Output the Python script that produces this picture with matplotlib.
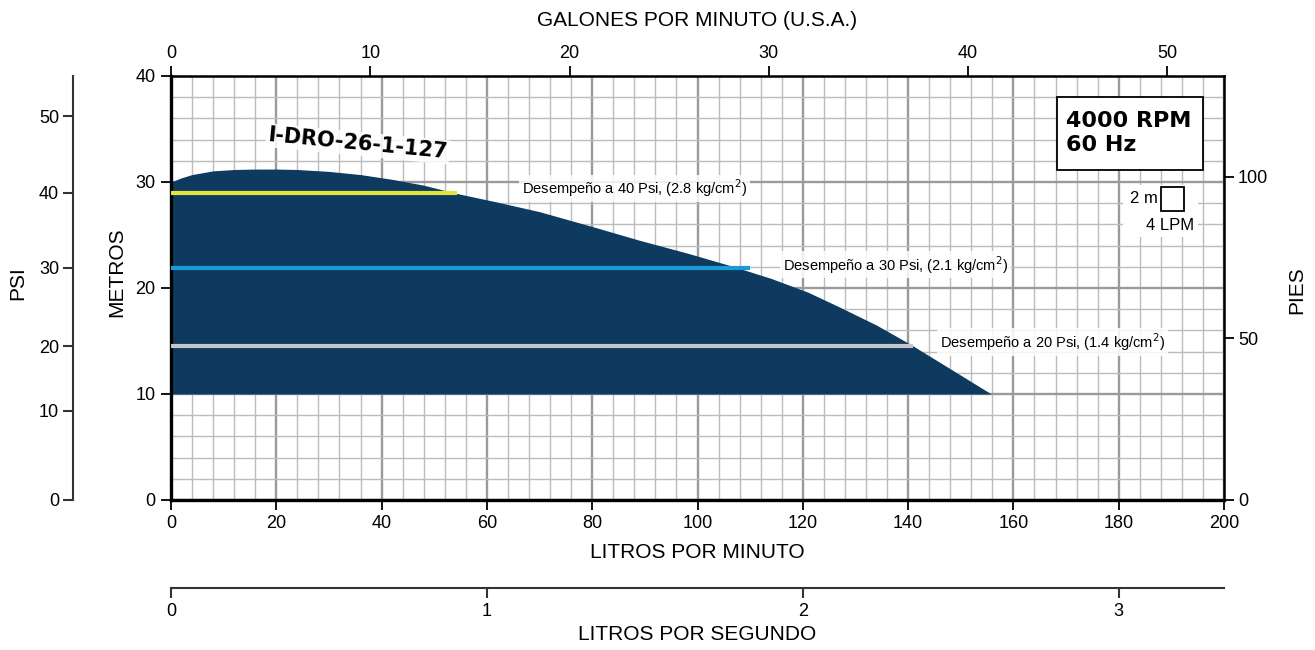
"""Pump curve I-DRO-26-1-127 at 4000 RPM / 60 Hz, with the unit axes around it."""

import matplotlib
matplotlib.use("Agg")

import matplotlib.pyplot as plt
from matplotlib.patches import Rectangle
from matplotlib.ticker import MultipleLocator

plt.rcParams["font.family"] = ["Liberation Sans", "DejaVu Sans"]

# Curve (flow in L/min, head in metres)
flow_lpm = [0, 2, 4, 8, 12, 16, 20, 24, 30, 36, 42, 48, 54, 62, 70, 80, 89, 98, 107,
            114, 121, 127, 134, 140.4, 148.6, 155.8]
head_m = [30.0, 30.4, 30.7, 31.05, 31.18, 31.22, 31.22, 31.18, 31.0, 30.7, 30.25, 29.7,
          28.95, 28.1, 27.2, 25.8, 24.5, 23.3, 22.0, 20.9, 19.6, 18.2, 16.5, 14.7, 12.2, 10.0]
base_head_m = 10.0

# Performance lines at given pressures
perf_labels = [
    "Desempeño a 40 Psi, (2.8 kg/cm$^2$)",
    "Desempeño a 30 Psi, (2.1 kg/cm$^2$)",
    "Desempeño a 20 Psi, (1.4 kg/cm$^2$)",
]
perf_head_m = [29.0, 21.9, 14.5]
perf_end_lpm = [54.3, 110, 141]
perf_colors = ["#e4e23c", "#1b9ad6", "#c6c6c6"]

# PSI scale as printed (ticks are not evenly spaced on the original)
psi_ticks = [0, 10, 20, 30, 40, 50]
psi_tick_m = [0, 8.4, 14.5, 21.9, 29.0, 36.2]

lpm_ticks = list(range(0, 201, 20))
metro_ticks = [0, 10, 20, 30, 40]
gpm_ticks = [0, 10, 20, 30, 40, 50]
pies_ticks = [0, 50, 100]
lps_ticks = [0, 1, 2, 3]

NAVY = "#0f3a60"
TICK_FS = 13
TITLE_FS = 15

fig = plt.figure(figsize=(13.15, 6.5), dpi=100)
ax = fig.add_axes([171 / 1315, 150 / 650, 1053 / 1315, 424 / 650])
ax.set_xlim(0, 200)
ax.set_ylim(0, 40)

# grid paper
ax.set_axisbelow(True)
ax.xaxis.set_minor_locator(MultipleLocator(4))
ax.yaxis.set_minor_locator(MultipleLocator(2))
ax.grid(which="minor", color="#bcbcbc", lw=1.0)
ax.grid(which="major", color="#9a9a9a", lw=1.7)
ax.tick_params(which="minor", length=0)
ax.tick_params(which="major", direction="out", length=7, width=1.3, pad=4, labelsize=TICK_FS)
ax.set_xticks(lpm_ticks)
ax.set_yticks(metro_ticks)
for side in ["left", "bottom"]:
    ax.spines[side].set_linewidth(2.4)
for side in ["top", "right"]:
    ax.spines[side].set_linewidth(1.8)

# pump curve area
ax.fill_between(flow_lpm, head_m, base_head_m, color=NAVY, lw=0, zorder=1)

for h, end, col in zip(perf_head_m, perf_end_lpm, perf_colors):
    ax.plot([0, end], [h, h], color=col, lw=3, solid_capstyle="butt", zorder=3)

label_pos = [(66.7, 29.4), (116.2, 22.2), (146.0, 14.9)]
for lbl, (x, y) in zip(perf_labels, label_pos):
    ax.text(x, y, lbl, fontsize=10.5, ha="left", va="center", zorder=4,
            bbox=dict(facecolor="white", edgecolor="none", alpha=0.85, pad=2))

ax.text(35.5, 33.6, "I-DRO-26-1-127", fontsize=15, fontweight="bold",
        family="DejaVu Sans", rotation=-5.5, ha="center", va="center", zorder=4,
        bbox=dict(facecolor="white", edgecolor="none", alpha=0.85, pad=1.5))

# speed box
ax.add_patch(Rectangle((168.3, 31.1), 27.7, 6.9, facecolor="white",
                       edgecolor="black", lw=1.3, zorder=4))
ax.text(170.0, 34.6, "4000 RPM\n60 Hz", fontsize=16, fontweight="bold",
        family="DejaVu Sans", ha="left", va="center", linespacing=1.25, zorder=5)

# grid scale key
ax.add_patch(Rectangle((180.8, 24.8), 14.2, 4.9, facecolor="white", edgecolor="none", zorder=4))
ax.add_patch(Rectangle((188, 27.3), 4.4, 2.2, facecolor="white", edgecolor="black", lw=1.3, zorder=5))
ax.text(187.5, 28.4, "2 m", fontsize=12, ha="right", va="center", zorder=5)
ax.text(189.8, 25.9, "4 LPM", fontsize=12, ha="center", va="center", zorder=5)

# secondary unit scales
top = ax.secondary_xaxis("top", functions=(lambda q: q / 3.785, lambda g: g * 3.785))
top.set_xticks(gpm_ticks)
top.tick_params(direction="out", length=7, width=1.3, pad=3, labelsize=TICK_FS)

right = ax.secondary_yaxis("right", functions=(lambda m: m * 3.281, lambda f: f / 3.281))
right.set_yticks(pies_ticks)
right.tick_params(direction="out", length=7, width=1.3, pad=3, labelsize=TICK_FS)

lps = ax.secondary_xaxis(-88 / 424, functions=(lambda q: q / 60, lambda s: s * 60))
lps.set_xticks(lps_ticks)
lps.spines["bottom"].set_color("#333333")
lps.spines["bottom"].set_linewidth(1.5)
lps.tick_params(direction="out", length=7, width=1.5, color="#333333", pad=4, labelsize=TICK_FS)

psi = ax.secondary_yaxis(-98 / 1053, functions=(lambda m: m, lambda m: m))
psi.set_yticks(psi_tick_m)
psi.set_yticklabels([str(p) for p in psi_ticks])
psi.spines["left"].set_color("#333333")
psi.spines["left"].set_linewidth(1.5)
psi.tick_params(direction="out", length=7, width=1.5, color="#333333", pad=3, labelsize=TICK_FS)

# axis titles
fig.text(697 / 1315, 1 - 20 / 650, "GALONES POR MINUTO (U.S.A.)", fontsize=TITLE_FS, ha="center", va="center")
fig.text(697 / 1315, 1 - 553 / 650, "LITROS POR MINUTO", fontsize=TITLE_FS, ha="center", va="center")
fig.text(697 / 1315, 1 - 635 / 650, "LITROS POR SEGUNDO", fontsize=TITLE_FS, ha="center", va="center")
fig.text(117 / 1315, 1 - 272 / 650, "METROS", fontsize=TITLE_FS, rotation=90, ha="center", va="center")
fig.text(18 / 1315, 1 - 283 / 650, "PSI", fontsize=TITLE_FS, rotation=90, ha="center", va="center")
fig.text(1297 / 1315, 1 - 290 / 650, "PIES", fontsize=TITLE_FS, rotation=90, ha="center", va="center")

fig.savefig("out.png", dpi=100)
plt.close(fig)
